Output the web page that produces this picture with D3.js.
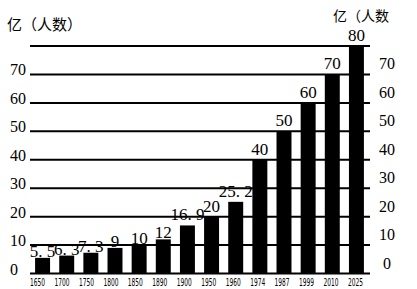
<!DOCTYPE html>
<html>
<head>
<meta charset="utf-8">
<script src="https://cdn.jsdelivr.net/npm/d3@7"></script>
<style>
  body { margin: 0; background: #fff; }
  svg { display: block; }
</style>
</head>
<body>
<script>
// data
var years = ['1650', '1700', '1750', '1800', '1850', '1890', '1900', '1950', '1960', '1974', '1987', '1999', '2010', '2025'];
var values = [5.5, 6.3, 7.3, 9, 10, 12, 16.9, 20, 25.2, 40, 50, 60, 70, 80];
var valueLabels = ['5. 5', '6. 3', '7. 3', '9', '10', '12', '16. 9', '20', '25. 2', '40', '50', '60', '70', '80'];
var ticks = [0, 10, 20, 30, 40, 50, 60, 70, 80];
var tickLabels = ['0', '10', '20', '30', '40', '50', '60', '70'];

var width = 417, height = 289;
var serif = 'Liberation Serif, Times New Roman, DejaVu Serif, serif';
var cjk = 'Noto Sans CJK SC, sans-serif';

var svg = d3.select('body').append('svg')
    .attr('width', width)
    .attr('height', height);

var x = d3.scaleBand()
    .domain(years)
    .range([30.5, 368.5])
    .paddingInner(0.38)
    .paddingOuter(0.19);

// year labels sit a little left of the bars
var xLabel = d3.scalePoint()
    .domain(years)
    .range([37.5, 355.5]);

var y = d3.scaleLinear()
    .domain([0, 80])
    .range([273.5, 46]);

// grid lines
svg.append('g')
    .selectAll('line')
    .data(ticks)
    .enter()
    .append('line')
    .attr('x1', 30)
    .attr('x2', 370)
    .attr('y1', function(d) { return y(d); })
    .attr('y2', function(d) { return y(d); })
    .attr('stroke', '#000')
    .attr('stroke-width', 2);

// bars
svg.append('g')
    .selectAll('rect')
    .data(values)
    .enter()
    .append('rect')
    .attr('x', function(d, i) { return x(years[i]); })
    .attr('width', x.bandwidth())
    .attr('y', function(d) { return y(d); })
    .attr('height', function(d) { return y(0) - y(d); })
    .attr('fill', '#000');

// value labels
svg.append('g')
    .selectAll('text')
    .data(values)
    .enter()
    .append('text')
    .attr('x', function(d, i) { return x(years[i]) + x.bandwidth() / 2; })
    .attr('y', function(d) { return y(d) - (d < 15 ? 1 : 5); })
    .attr('text-anchor', 'middle')
    .attr('font-family', serif)
    .attr('font-size', 17)
    .text(function(d, i) { return valueLabels[i]; });

// left axis labels
svg.append('g')
    .selectAll('text')
    .data(tickLabels)
    .enter()
    .append('text')
    .attr('x', 10)
    .attr('y', function(d) { return y(+d) + 1; })
    .attr('font-family', serif)
    .attr('font-size', 16)
    .text(function(d) { return d; });

// right axis labels
svg.append('g')
    .selectAll('text')
    .data(tickLabels)
    .enter()
    .append('text')
    .attr('x', 387)
    .attr('y', function(d) { return y(+d) - 5; })
    .attr('text-anchor', 'middle')
    .attr('font-family', serif)
    .attr('font-size', 16)
    .text(function(d) { return d; });

// year labels
svg.append('g')
    .selectAll('text')
    .data(years)
    .enter()
    .append('text')
    .attr('x', function(d) { return xLabel(d) - 7.5; })
    .attr('y', 286)
    .attr('textLength', 15)
    .attr('lengthAdjust', 'spacingAndGlyphs')
    .attr('font-family', 'DejaVu Sans Condensed, sans-serif')
    .attr('font-size', 11)
    .text(function(d) { return d; });

// unit titles
svg.append('text')
    .attr('x', 7)
    .attr('y', 30)
    .attr('font-family', cjk)
    .attr('font-size', 15)
    .text('亿（人数）');

svg.append('text')
    .attr('x', 333)
    .attr('y', 21)
    .attr('font-family', cjk)
    .attr('font-size', 14)
    .text('亿（人数');
</script>
</body>
</html>
